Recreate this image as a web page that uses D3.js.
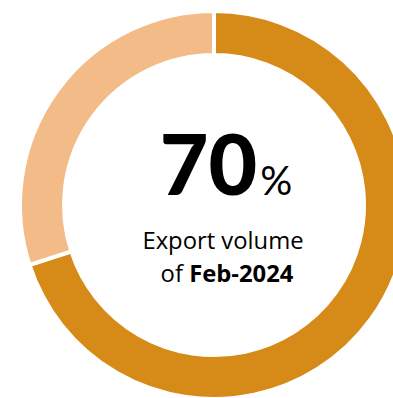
<!DOCTYPE html>
<html><head><meta charset="utf-8">
<script src="https://cdn.jsdelivr.net/npm/d3@7"></script>
<style>html,body{margin:0;padding:0;background:#fff;overflow:hidden}</style>
</head><body>
<svg id="c" width="393" height="398"></svg>
<script>
const categories = ["Export volume", "Remaining"];
const values = [70, 30];
const colors = ["#D68B19", "#F3BB87"];
const centerValue = "70";
const centerUnit = "%";
const labelLine1 = "Export volume";
const labelLine2a = "of ";
const labelLine2b = "Feb-2024";

const svg = d3.select("#c");
const cx = 214, cy = 205, rOuter = 194, rInner = 150;
const g = svg.append("g").attr("transform", `translate(${cx},${cy})`);
const pie = d3.pie().sort(null).value(d => d)(values);
const arc = d3.arc().innerRadius(rInner).outerRadius(rOuter);
g.selectAll("path").data(pie).join("path")
  .attr("d", arc)
  .attr("fill", (d, i) => colors[i])
  .attr("stroke", "#fff").attr("stroke-width", 4);

const t1 = svg.append("text").attr("x", 226).attr("y", 195).attr("text-anchor", "middle")
  .style("font-family", "Lato, sans-serif").attr("fill", "#000");
t1.append("tspan").text(centerValue).style("font-weight", "900").style("font-size", "84px");
t1.append("tspan").text(centerUnit).style("font-size", "40px").attr("dx", 3);

svg.append("text").attr("x", 223).attr("y", 249).attr("text-anchor", "middle")
  .style("font-family", "'Open Sans', sans-serif").style("font-size", "23.8px").attr("fill", "#000")
  .text(labelLine1);
const t3 = svg.append("text").attr("x", 227).attr("y", 282).attr("text-anchor", "middle")
  .style("font-family", "'Open Sans', sans-serif").style("font-size", "23.8px").attr("fill", "#000");
t3.append("tspan").text(labelLine2a);
t3.append("tspan").text(labelLine2b).style("font-weight", "bold");
</script>
</body></html>
